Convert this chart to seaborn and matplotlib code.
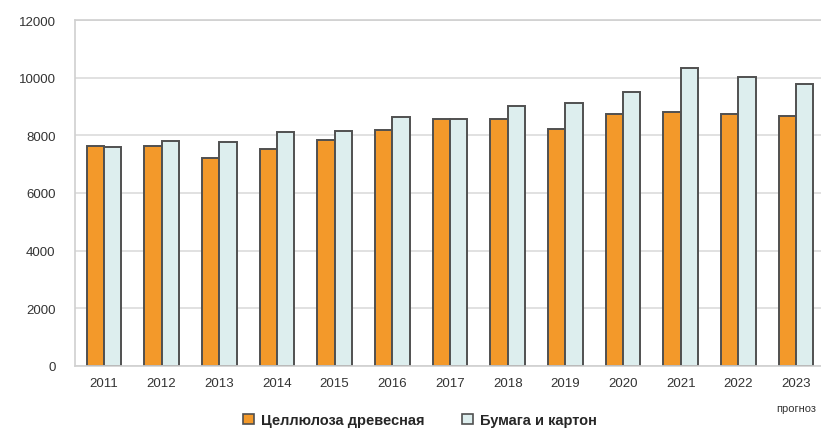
import matplotlib
matplotlib.use("Agg")
import matplotlib.pyplot as plt
import seaborn as sns
import pandas as pd
from matplotlib.patches import Patch

years = ["2011", "2012", "2013", "2014", "2015", "2016", "2017",
         "2018", "2019", "2020", "2021", "2022", "2023"]
pulp = [7640, 7640, 7200, 7530, 7850, 8190, 8560, 8560, 8220, 8740, 8810, 8740, 8670]
paper = [7610, 7790, 7760, 8130, 8160, 8630, 8560, 9030, 9110, 9520, 10350, 10020, 9780]
series_names = ["Целлюлоза древесная", "Бумага и картон"]
colors = ["#F3992A", "#DDEEEE"]
forecast_label = "прогноз"

df = pd.DataFrame({
    "year": years * 2,
    "value": pulp + paper,
    "series": [series_names[0]] * len(years) + [series_names[1]] * len(years),
})

sns.set_theme(style="white")
plt.rcParams["font.family"] = ["Liberation Sans Narrow", "Liberation Sans", "DejaVu Sans"]

fig = plt.figure(figsize=(8.21, 4.31), dpi=100)
ax = fig.add_axes([75 / 821, 64 / 431, 750 / 821, 346 / 431])

sns.barplot(data=df, x="year", y="value", hue="series", palette=colors,
            width=0.6, gap=0, edgecolor="#505050", linewidth=1.4,
            legend=False, ax=ax, saturation=1)

ax.set_ylim(0, 12000)
ax.set_xlim(-0.5, len(years) - 0.5)
ax.set_yticks(range(0, 12001, 2000))
ax.set_yticklabels([str(v) for v in range(0, 12001, 2000)])
ax.yaxis.grid(True, color="#dcdcdc", linewidth=1.2)
ax.set_axisbelow(True)
ax.set_xlabel("")
ax.set_ylabel("")
for side in ["left", "bottom", "top"]:
    ax.spines[side].set_visible(True)
    ax.spines[side].set_color("#d0d0d0")
    ax.spines[side].set_linewidth(1.2)
ax.spines["right"].set_visible(False)
ax.tick_params(axis="both", length=0, labelsize=9.5, colors="#333333")
ax.tick_params(axis="y", pad=14)
ax.tick_params(axis="x", pad=8)

ax.text(len(years) - 1, -0.12, forecast_label, transform=ax.get_xaxis_transform(),
        ha="center", va="center", fontsize=8, color="#333333")

handles = [Patch(facecolor=c, edgecolor="#505050", linewidth=1.2) for c in colors]
fig.legend(handles, series_names, loc="center", bbox_to_anchor=(420 / 821, 1 - 421 / 431),
           ncol=2, frameon=False, handlelength=0.75, handleheight=0.75,
           columnspacing=2.6, handletextpad=0.5, borderpad=0.2,
           prop={"weight": "bold", "size": 10.5})

fig.savefig("out.png", dpi=100)
